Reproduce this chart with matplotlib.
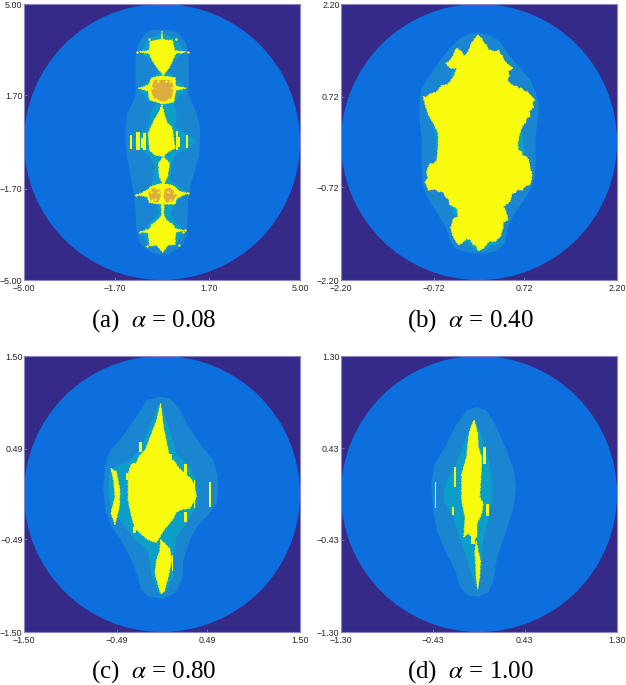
import numpy as np
import matplotlib
matplotlib.use("Agg")
import matplotlib.pyplot as plt
from matplotlib.patches import Circle, Polygon, Rectangle

plt.rcParams['font.family'] = ['Liberation Sans', 'DejaVu Sans']
plt.rcParams['mathtext.fontset'] = 'stix'

# panel settings
limits = [5.00, 2.20, 1.50, 1.30]
inner_ticks = [1.70, 0.72, 0.49, 0.43]
captions = [r"(a)  $\alpha$ = 0.08", r"(b)  $\alpha$ = 0.40", r"(c)  $\alpha$ = 0.80", r"(d)  $\alpha$ = 1.00"]

# all outlines, in percent of the panel half width
a_outer = [(0,81.5),(6,81),(10.5,80),(14,76),(17.5,71.5),(19,64),(19.5,54.5),(19.5,45),(19,35),(21,30.5),(25,21),(27.5,11),(27.5,-1),(27,-10.5),(24,-20),(21,-30),(19,-42),(18.5,-56.5),(18,-66),(15.5,-73.5),(10.5,-78),(4.5,-81.5),(-4,-81.5),(-11,-78),(-16,-73.5),(-18.5,-64),(-19,-51.5),(-20.5,-37),(-22.5,-25),(-25,-13),(-26.5,-1),(-26.5,11),(-25,21),(-21.5,28),(-19,35),(-19,54.5),(-19,64),(-16.5,72.5),(-12.5,78.5),(-6,81)]
a_mid = [(0.5,79),(10.5,74.5),(16.5,65),(9,59.5),(4.5,51),(9.5,46.5),(18,39),(8.5,28),(10.5,21),(9.5,11),(18,6),(25,0),(19,-4.5),(10.5,-8),(7,-15.5),(6,-27.5),(18,-36),(9.5,-44.5),(6,-51.5),(10.5,-59),(16,-64),(10.5,-73.5),(1,-77.5),(-10,-74.5),(-15,-65),(-9,-59),(-2.5,-51.5),(-4,-44.5),(-17,-38.5),(-7.5,-31.5),(-5,-18),(-8.5,-10.5),(-17,-4.5),(-24.5,0),(-16,6),(-10,10),(-8.5,21),(-4,28),(-11,30.5),(-17,39),(-7.5,46),(-2.5,51),(-8.5,59.5),(-16,65),(-10,74.5)]
a_yellow = [
    [(0,80.5),(0.4,74.5),(5,73.5),(7.5,74),(8,71),(9,68),(9,66.2),(17.5,65.3),(10,64.2),(8,60),(5.5,54.5),(1,48.5),(-4,54.5),(-7.5,60),(-9,64),(-16.5,65.3),(-9,66.3),(-9,69),(-8.5,73),(-5,73.5),(-0.4,74.5)],
    [(0,48),(9.5,46.5),(10,40.5),(17.5,39),(10,37.5),(8.5,29),(1,27.5),(-9,30.5),(-10,37),(-17,39),(-10,41),(-7.5,46.5)],
    [(0,27),(2.5,17),(4,13.5),(7,11),(8,6),(8.5,1.5),(9.5,-4.5),(4.5,-7),(1,-10.5),(-5,-9.5),(-9,-6),(-9.5,1),(-10,6),(-7,13),(-5,17),(-2.5,21)],
    [(1,-10.5),(5.5,-15.5),(4,-25),(1,-31),(-2,-25),(-2.5,-15.5)],
    [(0,-30),(8,-31.5),(13,-36),(18.5,-37),(10.5,-41),(9.5,-45),(1.5,-45),(1,-55),(0,-55),(-0.5,-45),(-9,-44),(-11,-39.5),(-18,-38.5),(-11,-35),(-7.5,-32)],
    [(1,-52),(3,-56.5),(8,-60),(10,-63),(15.5,-64),(10,-65.5),(9.5,-70),(9.5,-74.5),(4.5,-74.5),(0.5,-80),(-4,-74.5),(-9,-75.5),(-9.5,-70),(-10,-66),(-15,-65),(-9,-63),(-7.5,-60),(-3,-56.5)],
]
a_orange = [
    [(-1.5,45),(7,45),(8.5,39),(7,31.5),(1,29),(-6,31.5),(-8,37.5),(-6,45)],
    [(-1,-35),(-6,-33),(-10,-37),(-8,-43),(-3,-44),(-1,-40)],
    [(2,-34),(6,-33),(11,-38),(8,-43),(3,-44),(1,-40)],
]
a_specks = [(-7,44),(6,44),(8,33),(-7,33),(-7.5,39),(7.5,39),(-3,44),(3,44),(-4,31),(5,31),(-8,-36),(-3,-36),(-5,-41),(4,-36),(9,-37),(6,-42),(0,-40),(-7,-42),(-4,-33),(7,-33),(10,74.5),(-9.5,74.5),(19,65),(-18,65),(14,65.5),(12,-75),(-11,-75.5),(15,-65),(17,-64),(-16,-65),(-19,-38.5),(19,-37)]
# stripes: x, top, bottom, width
a_stripes = [(-22.5,5,-5,1.2),(-17.5,7.5,-6,2.5),(-12.5,6.5,-6,2.2),(-14.5,3,-4,1.2),(11,8,-6,1.6),(12,3.5,-3.5,1.4),(18,5,-4.5,1.1)]

b_outer = [(0,79),(8,77.5),(15,73),(22.5,62),(30,53.5),(37,45),(41,36.5),(43.5,26),(42,13.5),(41,1.5),(41,-13),(40.5,-25),(37,-35),(32,-43),(26,-51.5),(21,-61),(19,-73),(13,-79),(3,-81),(-6,-80.5),(-17.5,-77),(-21,-71),(-24.5,-61),(-32,-49),(-38,-39),(-41,-30),(-41.5,-15.5),(-41.5,1.5),(-43,16),(-43,30.5),(-41.5,39),(-35.5,48.5),(-28,59.5),(-21,68),(-14,75),(-6.5,78.5)]
b_mid = [
    [(35,19),(31,11),(32,0),(33,-10),(29,-10),(27,0),(29,8),(33,16)],
    [(-34,12),(-31,4),(-31,-6),(-29,-12),(-28,0),(-28,8)],
    [(-13,64),(-18,52),(-21,47),(-17,45),(-14,52),(-9,62)],
    [(-15,-72),(-9,-68),(11,-70),(15,-74),(8,-75),(3,-79),(-3,-79),(-9,-72)],
    [(-22,-43),(-15,-48),(-14,-55),(-19,-52)],
    [(20,44),(27,37),(22,36),(18,42)],
]
b_yellow = [[(-1,77.5),(2,75),(3,72.5),(5.5,70),(6.5,67.5),(8,66.5),(11.5,65.5),(14.5,66.5),(15,64),(16.5,63),(18,59.5),(20,57),(24.5,53.5),(21,51),(22,48),(20.5,45),(22,43),(25,40.5),(28,40.5),(28,39),(31,39),(33,36.5),(35,36.5),(37,34),(40.5,30.5),(38.5,29),(39.5,25.5),(36.5,22),(37,18.5),(34,17),(34,14),(32,12.5),(30.5,9),(29.5,6.5),(28,-1),(28.5,-6),(31,-7),(31,-9.5),(34,-10.5),(36,-13),(37,-19),(38.5,-24),(37,-31),(34,-31.5),(31,-35),(28,-34.5),(26,-37),(24,-37),(22.5,-43),(17.5,-47),(19,-49),(20,-52),(21,-56.5),(17.5,-58),(17.5,-61.5),(15.5,-68.5),(11.5,-72),(7,-72),(5,-75),(3,-77),(-0.5,-79),(-2,-75),(-4,-74.5),(-6,-71),(-9,-70),(-12,-73),(-15,-74.5),(-18.5,-69),(-20.5,-62.5),(-18.5,-55.5),(-15,-54),(-16,-48),(-21,-45.5),(-22,-41.5),(-24.5,-39.5),(-26,-36),(-29.5,-36),(-32,-34),(-36.5,-35),(-39,-29),(-37,-26),(-38,-21.5),(-35.5,-15.5),(-33,-16),(-30.5,-13),(-29.5,-3.5),(-29.5,6.5),(-33,13.5),(-36.5,19.5),(-38.5,25.5),(-40.5,33),(-38,32.5),(-35.5,35),(-31,36),(-27,41),(-23,41.5),(-20,45),(-18,48),(-16,53.5),(-21,53.5),(-24,57),(-21,59),(-18.5,63),(-16.5,68),(-12.5,65.5),(-11,62),(-8,65),(-5.5,71.5)]]

c_outer = [(-1.5,70.5),(6,69),(12,63),(18,51),(27.5,36.5),(37,24.5),(40.5,12.5),(40.5,0),(39.5,-7),(32,-17),(25,-24),(20,-33.5),(15.5,-48),(14.5,-62),(10.5,-71),(1,-76),(-9,-74.5),(-15,-70),(-17.5,-60),(-22,-48),(-29.5,-33.5),(-36.5,-24),(-41,-12),(-42.5,5),(-41,22),(-37.5,31.5),(-29,41),(-19.5,54.5),(-11,68)]
c_mid = [(-1.5,67),(2,57),(7,41),(10.5,29),(20,19.5),(25,10),(26,-7),(19,-19),(10.5,-31),(8,-45.5),(8,-60),(3.5,-70),(-1.5,-73.5),(-7.5,-60),(-10,-41),(-19.5,-33.5),(-28,-21.5),(-36.5,-14),(-39,0),(-38,18),(-33,20),(-24.5,23.5),(-16,32),(-10,46.5),(-4,61)]
c_yellow = [
    [(-1,65.5),(1,48.5),(4.5,31.5),(6,26),(9.5,23),(12,19),(17,14.5),(21,11),(23,7.5),(25,-2),(20,-10.5),(15,-11),(10.5,-13),(8,-18),(6,-20.5),(1,-26.5),(-1,-30),(-4,-35),(-8,-34),(-11,-32.5),(-15,-29),(-19.5,-25),(-22,-16.5),(-24.5,-4.5),(-24.5,15),(-22,22),(-19,22),(-16,28),(-12,32),(-9,40),(-4,53)],
    [(-1,-33),(5.5,-39.5),(7,-48),(4.5,-60),(1.5,-71),(-1,-72),(-5,-57.5),(-4,-48),(-1.5,-41)],
    [(-37,18.5),(-33,16),(-30.5,2.5),(-31,-9.5),(-34,-22),(-37,-14),(-34,-2),(-35,10)],
]
c_stripes = [(35,8.5,-9.5,1.2),(-15.5,37.5,30.5,2),(6.5,29,22,1.3),(17,21.5,14.5,2),(17,-13,-20,2),(23.5,10,-10,1.3),(-25.5,15,10,1.2),(-20,-24,-28,2),(7.5,-44,-56,1.2)]

d_outer = [(-1.5,63),(5.5,60.5),(11.5,51),(19,34),(25,18.5),(27,5),(25,-9.5),(19,-29),(13,-46),(10.5,-62.5),(7,-71),(-0.5,-74.5),(-8,-73.5),(-13.5,-67.5),(-17.5,-55),(-24.5,-41),(-30.5,-26.5),(-33.5,-9.5),(-34.5,7.5),(-32,22),(-24.5,34),(-17.5,48.5),(-9,60.5)]
d_mid = [(-3.5,54.5),(0.5,46),(5.5,31.5),(9,15),(9.5,-4.5),(7,-16.5),(3,-33.5),(2,-53),(-0.5,-68.5),(-4,-62.5),(-9,-46),(-14,-31.5),(-18.5,-17),(-24.5,-7),(-26,0),(-23.5,9.5),(-17.5,19.5),(-12.5,31.5),(-7.5,46)]
d_yellow = [
    [(-3.5,53.5),(-1,44),(-0.5,34),(2,26.5),(1.5,14.5),(0.5,-2),(3,-7),(2,-14),(-1.5,-21.5),(-1.5,-31),(-4,-33),(-7.5,-28.5),(-11,-31),(-10,-17),(-12.5,-5),(-12.5,14.5),(-9,26.5),(-7.5,41),(-5.5,49.5)],
    [(-2,-34),(-0.5,-42),(1,-48),(0.5,-60),(-1,-69),(-2,-60),(-2.5,-48),(-3,-42)],
]
d_stripes = [(-17.5,19.5,5,1.2),(-19,-9.5,-15.5,1.4),(-31.5,8.5,-10.5,0.7),(4,34,22,2),(6,-7,-16,2.2),(-7,46,30,1.2),(-4.5,-28,-36,2.5)]

outer_shapes = [a_outer, b_outer, c_outer, d_outer]
mid_shapes = [[a_mid], b_mid, [c_mid], [d_mid]]
yellow_shapes = [a_yellow, b_yellow, c_yellow, d_yellow]
stripes = [a_stripes, [], c_stripes, d_stripes]

# axes boxes in figure pixels: left, top
W, H = 626, 685
SIZE = 276
boxes = [(24, 4), (341, 4), (24, 356), (341, 356)]
caption_pos = [(154, 321), (470, 321), (154, 672), (470, 672)]

NAVY = '#352a87'
DISC = '#0d6fde'
BAND = '#1a86d2'
TEAL = '#0ca0c8'
YELLOW = '#f9fb0e'
ORANGE = '#dcae3e'


def minus(v):
    return f"{v:.2f}".replace('-', '\u2212')


fig = plt.figure(figsize=(W / 100, H / 100), dpi=100)

for i in range(4):
    left, top = boxes[i]
    ax = fig.add_axes([left / W, 1 - (top + SIZE) / H, SIZE / W, SIZE / H])
    lim = limits[i]
    k = lim / 100

    ax.set_facecolor(NAVY)
    ax.add_patch(Circle((0, 0), lim, fc=DISC, ec='none'))
    ax.add_patch(Polygon(np.array(outer_shapes[i]) * k, fc=BAND, ec='none'))
    for shape in mid_shapes[i]:
        ax.add_patch(Polygon(np.array(shape) * k, fc=TEAL, ec='none'))
    for shape in yellow_shapes[i]:
        # broken edge gives the rough fractal border
        ax.add_patch(Polygon(np.array(shape) * k, fc=YELLOW, ec=YELLOW, lw=0.8,
                             ls=(0, (1.2, 0.8, 0.6, 1.4, 2, 1))))
    for x, y0, y1, w in stripes[i]:
        ax.add_patch(Rectangle(((x - w / 2) * k, y1 * k), w * k, (y0 - y1) * k, fc=YELLOW, ec='none'))
    if i == 0:
        for shape in a_orange:
            ax.add_patch(Polygon(np.array(shape) * k, fc=ORANGE, ec='none'))
        ax.scatter([p[0] * k for p in a_specks], [p[1] * k for p in a_specks], s=3, c=YELLOW, lw=0)

    ax.set_xlim(-lim, lim)
    ax.set_ylim(-lim, lim)
    ticks = [-lim, -inner_ticks[i], inner_ticks[i], lim]
    ax.set_xticks(ticks)
    ax.set_yticks(ticks)
    ax.set_xticklabels([minus(t) for t in ticks])
    ax.set_yticklabels([minus(t) for t in ticks])
    ax.tick_params(direction='in', length=2, width=0.5, color='#8a88c4', labelsize=6.4, labelcolor='#262626')
    ax.tick_params(axis='x', pad=3.2)
    ax.tick_params(axis='y', pad=1)
    for s in ax.spines.values():
        s.set_color('#8a88c4')
        s.set_linewidth(0.8)

    cx, cy = caption_pos[i]
    fig.text(cx / W, 1 - cy / H, captions[i], ha='center', va='center', fontsize=18,
             family=['Liberation Serif', 'DejaVu Serif'], color='black')

fig.savefig('out.png', dpi=100)
